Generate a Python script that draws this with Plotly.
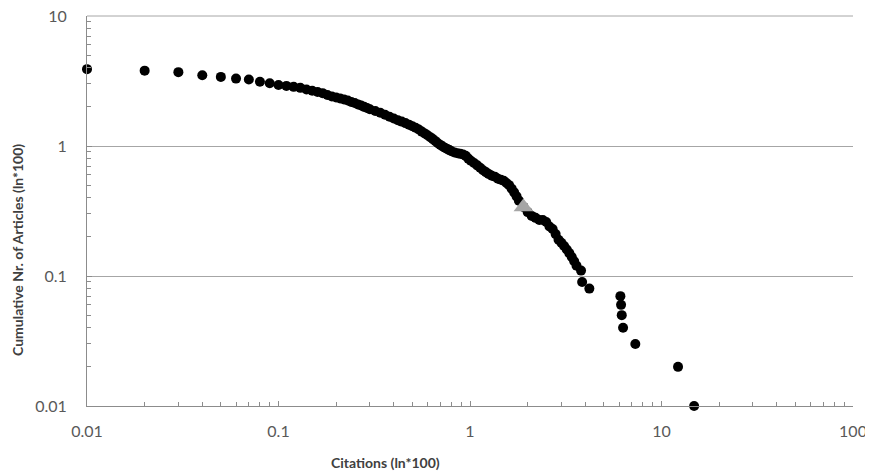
import plotly.graph_objects as go

# Cumulative distribution points
citations = [0.01, 0.02, 0.03, 0.04, 0.05, 0.06, 0.07, 0.08, 0.09, 0.10,
             0.11, 0.12, 0.13, 0.14, 0.15, 0.16, 0.17, 0.18, 0.19, 0.20,
             0.21, 0.22, 0.23, 0.24, 0.25, 0.26, 0.27, 0.28, 0.29, 0.30,
             0.32, 0.34, 0.36, 0.38, 0.40, 0.42, 0.44, 0.46, 0.48, 0.50,
             0.52, 0.54, 0.56, 0.58, 0.60, 0.62, 0.64, 0.66, 0.68, 0.70,
             0.72, 0.74, 0.76, 0.78, 0.80, 0.83, 0.86, 0.89, 0.92, 0.95,
             0.98, 1.01, 1.05, 1.09, 1.13, 1.17, 1.21, 1.25, 1.30, 1.35,
             1.40, 1.45, 1.50, 1.55, 1.60, 1.65, 1.70, 1.75, 1.80, 1.90,
             2.00, 2.10, 2.20, 2.30, 2.40, 2.50, 2.60, 2.70, 2.80, 2.90,
             3.00, 3.10, 3.20, 3.30, 3.40, 3.50, 3.60, 3.80, 3.85, 4.20,
             6.10, 6.15, 6.20, 6.30, 7.30, 12.2, 14.8]
articles = [3.9, 3.8, 3.7, 3.5, 3.4, 3.3, 3.25, 3.12, 3.04, 2.95,
            2.9, 2.85, 2.8, 2.72, 2.66, 2.6, 2.55, 2.47, 2.4, 2.36,
            2.32, 2.28, 2.24, 2.18, 2.14, 2.09, 2.05, 2.0, 1.96, 1.92,
            1.86, 1.80, 1.74, 1.68, 1.63, 1.58, 1.54, 1.50, 1.46, 1.42,
            1.38, 1.34, 1.29, 1.25, 1.21, 1.17, 1.13, 1.09, 1.05, 1.02,
            0.99, 0.97, 0.95, 0.93, 0.91, 0.89, 0.88, 0.87, 0.86, 0.84,
            0.80, 0.77, 0.74, 0.71, 0.68, 0.65, 0.63, 0.61, 0.59, 0.58,
            0.56, 0.55, 0.54, 0.52, 0.50, 0.47, 0.44, 0.41, 0.38, 0.34,
            0.31, 0.29, 0.28, 0.27, 0.27, 0.26, 0.24, 0.23, 0.21, 0.19,
            0.18, 0.17, 0.16, 0.15, 0.14, 0.13, 0.12, 0.11, 0.09, 0.08,
            0.07, 0.06, 0.05, 0.04, 0.03, 0.02, 0.01]

# Highlighted point (grey triangle)
mark_x = [1.9]
mark_y = [0.34]

x_ticks = [0.01, 0.1, 1, 10, 100]
x_ticktext = ["0.01", "0.1", "1", "10", "100"]
y_ticks = [0.01, 0.1, 1, 10]
y_ticktext = ["0.01", "0.1", "1", "10"]

x_title = "Citations (ln*100)"
y_title = "Cumulative Nr. of Articles (ln*100)"

# minor tick positions (2..9 within each decade)
x_minor = [m * 10.0 ** e for e in range(-2, 2) for m in range(2, 10)]
y_minor = [m * 10.0 ** e for e in range(-2, 1) for m in range(2, 10)]

font_family = "Lato, 'Open Sans', sans-serif"
axis_col = "#8c8c8c"
grid_col = "#a6a6a6"

# The page body adds an 8px offset, so the figure is sized 8px smaller.
W, H = 865, 468
L, R, T, B = 79, 20, 8, 70
pw = W - L - R
ph = H - T - B

fig = go.Figure()
fig.add_trace(go.Scatter(
    x=citations, y=articles, mode="markers",
    marker=dict(color="black", size=10, line=dict(width=0)),
    cliponaxis=False, showlegend=False))
fig.add_trace(go.Scatter(
    x=mark_x, y=mark_y, mode="markers",
    marker=dict(color="#a6a6a6", size=17, symbol="triangle-up", line=dict(width=0)),
    cliponaxis=False, showlegend=False))

fig.update_layout(
    width=W, height=H,
    margin=dict(l=L, r=R, t=T, b=B),
    plot_bgcolor="white", paper_bgcolor="white",
    font=dict(family=font_family, size=16, color="#595959"),
    xaxis=dict(
        type="log", range=[-2, 2], automargin=False,
        tickvals=x_ticks, ticktext=x_ticktext, ticklabeloverflow="allow",
        showgrid=False, zeroline=False,
        showline=True, linecolor=axis_col, linewidth=1,
        ticks="inside", ticklen=5, tickcolor=axis_col,
        minor=dict(tickvals=x_minor, ticks="inside", ticklen=4, tickcolor=axis_col, showgrid=False),
        ticklabelstandoff=11,
    ),
    yaxis=dict(
        type="log", range=[-2, 1], automargin=False,
        tickvals=y_ticks, ticktext=y_ticktext, ticklabeloverflow="allow",
        showgrid=True, gridcolor=grid_col, gridwidth=1, zeroline=False,
        showline=True, linecolor=axis_col, linewidth=1,
        ticks="inside", ticklen=5, tickcolor=axis_col,
        minor=dict(tickvals=y_minor, ticks="inside", ticklen=4, tickcolor=axis_col, showgrid=False),
        ticklabelstandoff=16,
    ),
    shapes=[
        dict(type="line", xref="paper", yref="paper", x0=0, x1=1, y0=1, y1=1,
             line=dict(color=grid_col, width=1), layer="below"),
    ],
    annotations=[
        dict(text="<b>" + x_title + "</b>", xref="paper", yref="paper",
             x=(377 - L) / pw, y=-(455 - (T + ph)) / ph,
             xanchor="center", yanchor="middle", showarrow=False,
             font=dict(size=14, color="#404040")),
        dict(text="<b>" + y_title + "</b>", xref="paper", yref="paper",
             x=-(L - 9) / pw, y=((T + ph) - 242) / ph,
             xanchor="center", yanchor="middle", textangle=-90, showarrow=False,
             font=dict(size=14, color="#404040")),
    ],
)

fig.write_html("out.html")
